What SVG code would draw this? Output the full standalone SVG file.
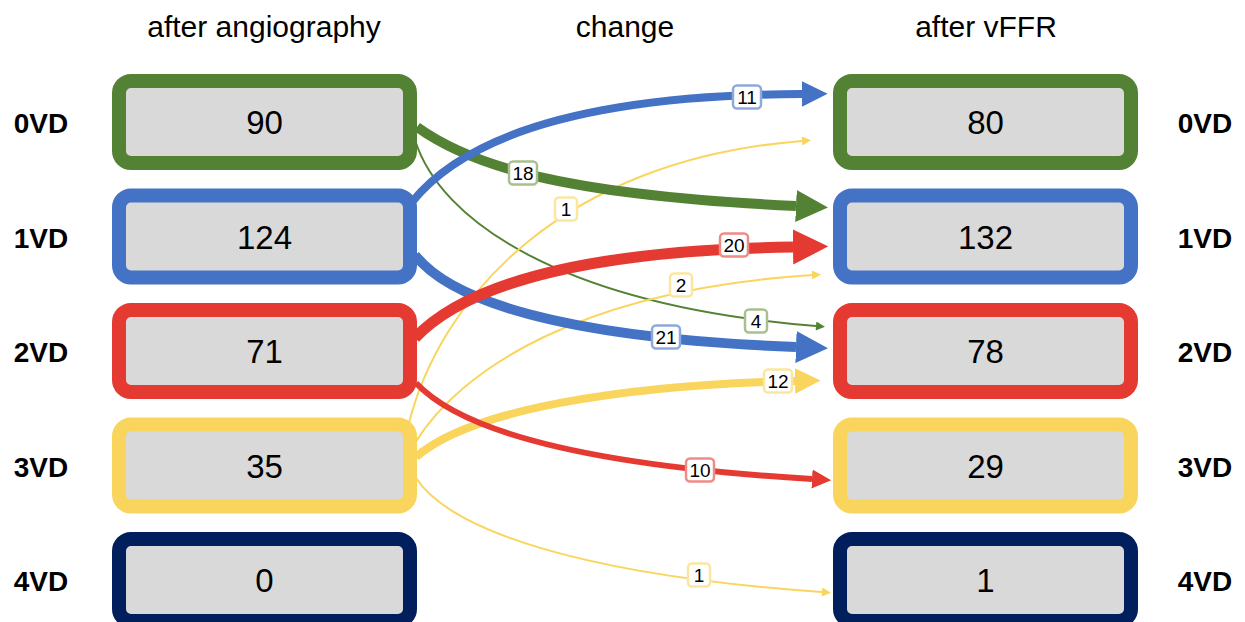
<svg xmlns="http://www.w3.org/2000/svg" width="1245" height="622" viewBox="0 0 1245 622">
<style>
.hdr{font-family:"Liberation Sans",Arial,sans-serif;font-size:30px;fill:#000;text-anchor:middle}
.row{font-family:"Liberation Sans",Arial,sans-serif;font-size:28px;font-weight:bold;fill:#000;text-anchor:middle}
.num{font-family:"Liberation Sans",Arial,sans-serif;font-size:33px;fill:#000;text-anchor:middle}
.box{fill:#D9D9D9;stroke-width:14}
.c{fill:none}
.lr{fill:#fff;stroke-width:2.5}
.lt{font-family:"Liberation Sans",Arial,sans-serif;font-size:19px;fill:#000;text-anchor:middle}
</style>
<defs>
<marker id="aBlue" viewBox="0 0 10 10" refX="0" refY="5" markerWidth="3.2" markerHeight="3.2" orient="auto" markerUnits="strokeWidth"><path d="M0,0L10,5L0,10z" fill="#4472C4"/></marker>
<marker id="aGreen" viewBox="0 0 10 10" refX="0" refY="5" markerWidth="3.2" markerHeight="3.2" orient="auto" markerUnits="strokeWidth"><path d="M0,0L10,5L0,10z" fill="#548235"/></marker>
<marker id="aRed" viewBox="0 0 10 10" refX="0" refY="5" markerWidth="3.2" markerHeight="3.2" orient="auto" markerUnits="strokeWidth"><path d="M0,0L10,5L0,10z" fill="#E53A31"/></marker>
<marker id="aYellow" viewBox="0 0 10 10" refX="0" refY="5" markerWidth="3.2" markerHeight="3.2" orient="auto" markerUnits="strokeWidth"><path d="M0,0L10,5L0,10z" fill="#FAD55E"/></marker>
<marker id="tGreen" viewBox="0 0 10 10" refX="0" refY="5" markerWidth="11" markerHeight="9" orient="auto" markerUnits="userSpaceOnUse"><path d="M0,0L10,5L0,10z" fill="#548235"/></marker>
<marker id="tYellow" viewBox="0 0 10 10" refX="0" refY="5" markerWidth="11" markerHeight="9" orient="auto" markerUnits="userSpaceOnUse"><path d="M0,0L10,5L0,10z" fill="#FAD55E"/></marker>
</defs>
<rect width="1245" height="622" fill="#fff"/>
<g id="headers">
<text class="hdr" x="264" y="37">after angiography</text>
<text class="hdr" x="625" y="37">change</text>
<text class="hdr" x="986" y="37">after vFFR</text>
</g>
<g id="row-labels">
<text class="row" x="41" y="133">0VD</text>
<text class="row" x="41" y="247.5">1VD</text>
<text class="row" x="41" y="362">2VD</text>
<text class="row" x="41" y="476.5">3VD</text>
<text class="row" x="41" y="591">4VD</text>
<text class="row" x="1205" y="133">0VD</text>
<text class="row" x="1205" y="247.5">1VD</text>
<text class="row" x="1205" y="362">2VD</text>
<text class="row" x="1205" y="476.5">3VD</text>
<text class="row" x="1205" y="591">4VD</text>
</g>
<g id="left-0VD"><rect class="box" x="119" y="81" width="291" height="82" rx="12" stroke="#548235"/><text class="num" x="264.5" y="134">90</text></g>
<g id="left-1VD"><rect class="box" x="119" y="195.5" width="291" height="82" rx="12" stroke="#4472C4"/><text class="num" x="264.5" y="248.5">124</text></g>
<g id="left-2VD"><rect class="box" x="119" y="310" width="291" height="82" rx="12" stroke="#E53A31"/><text class="num" x="264.5" y="363">71</text></g>
<g id="left-3VD"><rect class="box" x="119" y="424.5" width="291" height="82" rx="12" stroke="#FAD55E"/><text class="num" x="264.5" y="477.5">35</text></g>
<g id="left-4VD"><rect class="box" x="119" y="539" width="291" height="82" rx="12" stroke="#001F5C"/><text class="num" x="264.5" y="592">0</text></g>
<g id="right-0VD"><rect class="box" x="840" y="81" width="291" height="82" rx="12" stroke="#548235"/><text class="num" x="985.5" y="134">80</text></g>
<g id="right-1VD"><rect class="box" x="840" y="195.5" width="291" height="82" rx="12" stroke="#4472C4"/><text class="num" x="985.5" y="248.5">132</text></g>
<g id="right-2VD"><rect class="box" x="840" y="310" width="291" height="82" rx="12" stroke="#E53A31"/><text class="num" x="985.5" y="363">78</text></g>
<g id="right-3VD"><rect class="box" x="840" y="424.5" width="291" height="82" rx="12" stroke="#FAD55E"/><text class="num" x="985.5" y="477.5">29</text></g>
<g id="right-4VD"><rect class="box" x="840" y="539" width="291" height="82" rx="12" stroke="#001F5C"/><text class="num" x="985.5" y="592">1</text></g>
<g id="connectors">
<path class="c" d="M415,140 C440,220 560,305 816,326" stroke="#548235" stroke-width="2" marker-end="url(#tGreen)"/>
<path class="c" d="M409,423 C440,300 560,160 802,141" stroke="#FAD55E" stroke-width="2" marker-end="url(#tYellow)"/>
<path class="c" d="M417,127 C470,165 560,195 796,206" stroke="#548235" stroke-width="10" marker-end="url(#aGreen)"/>
<path class="c" d="M412,202 C470,130 600,95 802,94" stroke="#4472C4" stroke-width="8" marker-end="url(#aBlue)"/>
<path class="c" d="M415,443 C460,370 580,290 812,275" stroke="#FAD55E" stroke-width="2" marker-end="url(#tYellow)"/>
<path class="c" d="M415,255 C450,300 560,338 796,347" stroke="#4472C4" stroke-width="10" marker-end="url(#aBlue)"/>
<path class="c" d="M415,338 C470,280 600,250 793,247" stroke="#E53A31" stroke-width="11" marker-end="url(#aRed)"/>
<path class="c" d="M416,457 C470,410 620,385 795,381" stroke="#FAD55E" stroke-width="8" marker-end="url(#aYellow)"/>
<path class="c" d="M416,383 C460,430 580,465 812,479" stroke="#E53A31" stroke-width="6" marker-end="url(#aRed)"/>
<path class="c" d="M416,478 C450,530 580,575 822,592" stroke="#FAD55E" stroke-width="2" marker-end="url(#tYellow)"/>
<g><rect class="lr" x="733" y="85.5" width="28" height="23" rx="4" stroke="#8EA9DB"/><text class="lt" x="747" y="104">11</text></g>
<g><rect class="lr" x="509" y="161.5" width="28" height="23" rx="4" stroke="#A9C08E"/><text class="lt" x="523" y="180">18</text></g>
<g><rect class="lr" x="555" y="197.5" width="22" height="23" rx="4" stroke="#FBE6A0"/><text class="lt" x="566" y="216">1</text></g>
<g><rect class="lr" x="720" y="233.5" width="28" height="23" rx="4" stroke="#EF8B86"/><text class="lt" x="734" y="252">20</text></g>
<g><rect class="lr" x="670" y="273.5" width="22" height="23" rx="4" stroke="#FBE6A0"/><text class="lt" x="681" y="292">2</text></g>
<g><rect class="lr" x="745" y="309.5" width="22" height="23" rx="4" stroke="#A9C08E"/><text class="lt" x="756" y="328">4</text></g>
<g><rect class="lr" x="652" y="325.5" width="28" height="23" rx="4" stroke="#8EA9DB"/><text class="lt" x="666" y="344">21</text></g>
<g><rect class="lr" x="764" y="369.5" width="28" height="23" rx="4" stroke="#FBE6A0"/><text class="lt" x="778" y="388">12</text></g>
<g><rect class="lr" x="686" y="458.5" width="28" height="23" rx="4" stroke="#EF8B86"/><text class="lt" x="700" y="477">10</text></g>
<g><rect class="lr" x="688" y="563.5" width="22" height="23" rx="4" stroke="#FBE6A0"/><text class="lt" x="699" y="582">1</text></g>
</g>
</svg>
